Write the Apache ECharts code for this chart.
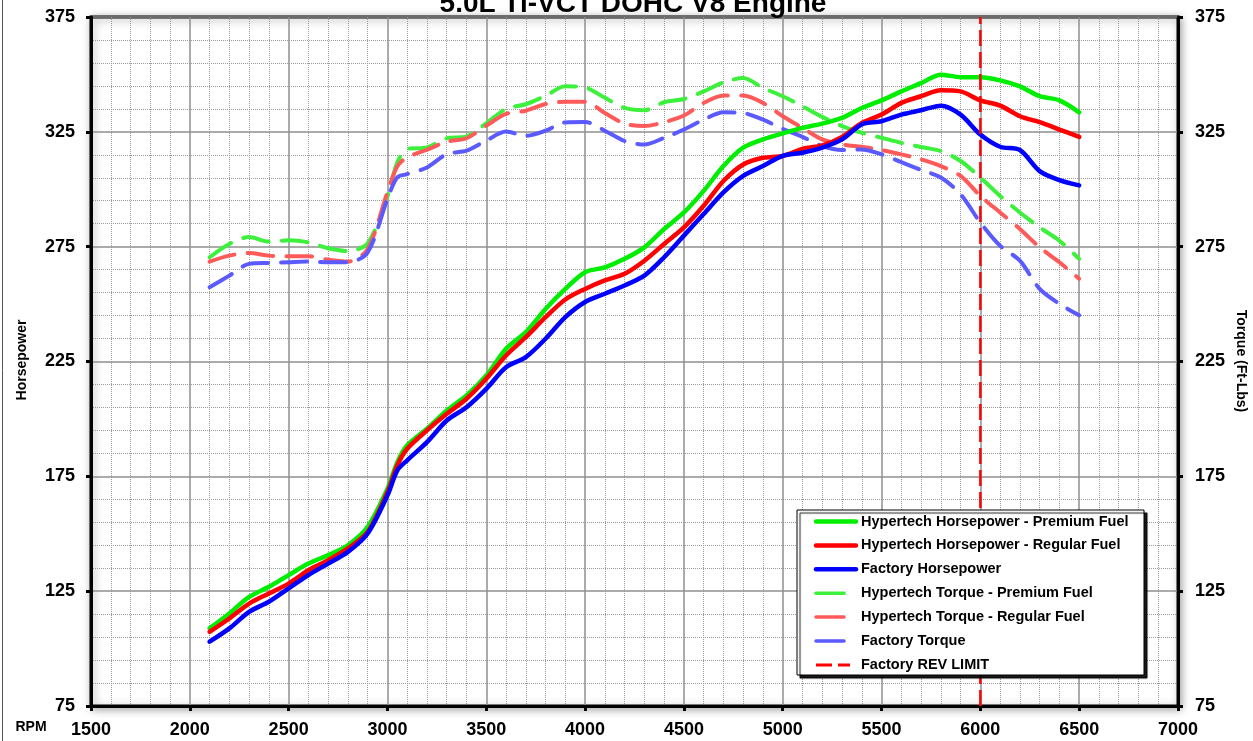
<!DOCTYPE html>
<html>
<head>
<meta charset="utf-8">
<script src="https://cdn.jsdelivr.net/npm/echarts@6.0.0/dist/echarts.min.js"></script>
<style>
html,body{margin:0;padding:0;background:#fff;}
#chart{width:1253px;height:741px;}
</style>
</head>
<body>
<div id="chart"></div>
<script>
// ---- Data ----
const TITLE = '5.0L Ti-VCT DOHC V8 Engine';
const rpm = [2100,2200,2300,2400,2500,2600,2700,2800,2900,3000,3050,3100,3200,3300,3400,3500,3600,3700,3800,3900,
             4000,4100,4200,4300,4400,4500,4600,4700,4800,4900,5000,5100,5200,5300,5400,5500,5600,5700,5800,5900,
             6000,6100,6200,6300,6400,6500];
const hpPremium = [108.8,115.3,122.5,126.9,132,137,140.7,145,153,169.6,181.2,188.5,195.7,203.7,210.2,218.9,230.5,237.8,247.9,256.6,
                   263.9,266,269.7,274.7,282.7,289.9,299.3,310.1,318.1,321.7,324.3,326.7,328.6,331.1,335.4,338.7,342.6,346.2,349.9,348.8,
                   348.8,347.4,344.8,340.5,338.7,333.5];
const hpRegular = [107.3,113.1,119.6,124,128.3,134.1,138.5,143.6,150.8,168.2,179.8,187,195,202.2,208.8,217.5,227.6,235.6,244.3,252,
                   256.6,260.3,263.2,268.9,276.2,283.4,292.8,303.6,310.8,313.7,314.5,317.6,319.1,322.8,328.9,332.5,337.6,340.5,343.1,342.6,
                   338.7,336.4,331.8,329.2,326,322.8];
const hpFactory = [103,108.8,116,120.4,126.2,132,137,142.1,150.1,166.7,177.6,182,189.9,199.3,205.1,213.1,222.5,226.9,234.9,244.3,
                   250.9,254.5,258.1,262.4,270.4,279.8,289.2,298.6,305.8,310.1,314.5,315.9,318.1,321.7,328.2,329.6,332.5,334.4,336.4,332.5,
                   323.8,318.5,317.1,307.9,304,301.7];
const tqPremium = [270.4,276.2,279.2,277.2,277.8,276.9,274.3,273.1,276.5,297,311.7,317.5,318.2,322.2,323,328.7,335,337,340.7,344.8,
                   344.3,339.8,335.4,334.4,337.9,339.3,342.6,346.5,348.4,344.1,340.5,336.1,331.5,327.5,324.6,322.4,320.2,318.4,316.6,312.3,
                   305.1,297.1,289.9,283.4,277.6,269.7];
const tqRegular = [268.5,271.1,272.2,271.1,270.8,270.8,269.3,268.5,274,298.7,310,313.9,317.2,320.7,322.2,327.7,332.8,334.2,337.1,338.1,
                   338.1,333.2,328.6,327.5,329.2,332.1,337.6,340.8,340.8,337.6,331.8,326.7,321.7,319.5,318.5,317.1,315.2,313,310.1,305.8,
                   297.1,289.9,282.7,274.7,268.2,261];
const tqFactory = [257.3,262.4,267.5,267.9,268.2,268.5,268.2,268.2,272.5,295.8,305.2,306.6,309.5,315.3,316.8,321.2,325.1,323.3,325.5,329.1,
                   329.3,325.5,321,319.5,322.4,326,330.3,333.5,333.2,330.3,326.3,322.8,318.8,317.1,317.3,315.2,311.8,308.4,305.1,297.8,
                   285.5,275.4,268.9,256.6,250.1,245.1];
const REV_LIMIT = 6000;
const xTicks = {min:1500, max:7000, interval:500};
const yTicks = {min:75, max:375, interval:50};
const seriesNames = [
  'Hypertech Horsepower - Premium Fuel',
  'Hypertech Horsepower - Regular Fuel',
  'Factory Horsepower',
  'Hypertech Torque - Premium Fuel',
  'Hypertech Torque - Regular Fuel',
  'Factory Torque',
  'Factory REV LIMIT'
];

// ---- Styling ----
const FONT = '"Liberation Sans", Arial, sans-serif';
const colors = {
  hpP:'#00ee00', hpR:'#ff0000', hpF:'#0000ff',
  tqP:'#3cf03c', tqR:'#ff5a5a', tqF:'#5a5aff', rev:'#ff0000'
};
const zip = (xs, ys) => xs.map((x,i)=>[x, ys[i]]);

const chart = echarts.init(document.getElementById('chart'), null, {renderer:'canvas'});

function hpSeries(name, data, color){
  return {name, type:'line', data:zip(rpm,data), smooth:0.3, symbol:'none', z:4,
    lineStyle:{color, width:4.5, cap:'round', join:'round'}, itemStyle:{color}};
}
function tqSeries(name, data, color){
  return {name, type:'line', data:zip(rpm,data), smooth:0.3, symbol:'none', z:3,
    lineStyle:{color, width:4, type:[26,13], cap:'round', join:'round'}, itemStyle:{color}};
}

const labelStyle = {color:'#000', fontFamily:FONT, fontWeight:'bold', fontSize:18, formatter:(v)=>String(v)};

// Legend as graphic
const legX = 797, legY = 510, legW = 347, legH = 165;
const rowY0 = 521.5, rowGap = 23.9;
const legendGraphics = [{
  type:'rect', z:100, shape:{x:legX, y:legY, width:legW, height:legH},
  style:{fill:'#fff', stroke:'#000', lineWidth:1, shadowColor:'rgba(0,0,0,0.9)', shadowOffsetX:3, shadowOffsetY:3, shadowBlur:1}
}];
const legendSpec = [
  {c:colors.hpP, w:4.5, x2:856, dash:null},
  {c:colors.hpR, w:4.5, x2:856, dash:null},
  {c:colors.hpF, w:4.5, x2:856, dash:null},
  {c:colors.tqP, w:3.5, x2:844, dash:null},
  {c:colors.tqR, w:3.5, x2:844, dash:null},
  {c:colors.tqF, w:3.5, x2:844, dash:null},
  {c:colors.rev, w:3, x2:850, dash:[16,6]}
];
legendSpec.forEach((s,i)=>{
  const y = rowY0 + i*rowGap;
  legendGraphics.push({type:'line', z:101, shape:{x1:816, y1:y, x2:s.x2, y2:y},
    style:{stroke:s.c, lineWidth:s.w, lineCap: s.dash ? 'butt':'round', lineDash:s.dash||null}});
  legendGraphics.push({type:'text', z:101, x:861, y:y,
    style:{text:seriesNames[i], font:'bold 14.5px '+FONT, fill:'#000', textAlign:'left', textVerticalAlign:'middle', align:'left', verticalAlign:'middle'}});
});

const option = {
  animation:false,
  backgroundColor:'#fff',
  grid:{left:91, right:75, top:17, bottom:35, show:true, backgroundColor:'#fff',
        borderColor:'#000', borderWidth:3,
        shadowColor:'rgba(0,0,0,0.35)', shadowBlur:8, shadowOffsetX:2, shadowOffsetY:2},
  xAxis:{type:'value', min:xTicks.min, max:xTicks.max, interval:xTicks.interval,
    axisLine:{show:true, onZero:false, lineStyle:{color:'#000', width:3}},
    axisTick:{show:true, length:5, lineStyle:{color:'#000', width:3}},
    axisLabel:Object.assign({margin:15}, labelStyle),
    splitLine:{show:true, lineStyle:{color:'#8f8f8f', width:1.5}},
    minorTick:{show:false, splitNumber:5},
    minorSplitLine:{show:true, lineStyle:{color:'#9a9a9a', width:1, type:'dotted'}}
  },
  yAxis:[
    {type:'value', min:yTicks.min, max:yTicks.max, interval:yTicks.interval, position:'left',
     axisLine:{show:true, lineStyle:{color:'#000', width:3}},
     axisTick:{show:true, length:5, lineStyle:{color:'#000', width:3}},
     axisLabel:Object.assign({margin:16}, labelStyle),
     splitLine:{show:true, lineStyle:{color:'#8f8f8f', width:1.5}},
     minorTick:{show:false, splitNumber:5},
     minorSplitLine:{show:true, lineStyle:{color:'#9a9a9a', width:1, type:'dotted'}}
    },
    {type:'value', min:yTicks.min, max:yTicks.max, interval:yTicks.interval, position:'right',
     axisLine:{show:true, lineStyle:{color:'#000', width:3}},
     axisTick:{show:true, length:5, lineStyle:{color:'#000', width:3}},
     axisLabel:Object.assign({margin:17}, labelStyle),
     splitLine:{show:false}
    }
  ],
  series:[
    tqSeries(seriesNames[3], tqPremium, colors.tqP),
    tqSeries(seriesNames[4], tqRegular, colors.tqR),
    tqSeries(seriesNames[5], tqFactory, colors.tqF),
    hpSeries(seriesNames[0], hpPremium, colors.hpP),
    hpSeries(seriesNames[1], hpRegular, colors.hpR),
    hpSeries(seriesNames[2], hpFactory, colors.hpF),
    {name:seriesNames[6], type:'line', symbol:'none', z:5,
     data:[[REV_LIMIT, yTicks.min],[REV_LIMIT, yTicks.max]],
     lineStyle:{color:colors.rev, width:2.5, type:[16,6]}, itemStyle:{color:colors.rev}}
  ],
  graphic:[
    {type:'line', z:0, shape:{x1:2.5, y1:0, x2:2.5, y2:741}, style:{stroke:'#555', lineWidth:1}},
    {type:'text', z:50, x:633, y:4,
     style:{text:TITLE, font:'bold 28px '+FONT, fill:'#000', textAlign:'center', textVerticalAlign:'middle', align:'center', verticalAlign:'middle'}},
    {type:'text', z:50, x:22, y:360, rotation:Math.PI/2,
     style:{text:'Horsepower', font:'bold 14px '+FONT, fill:'#000', textAlign:'center', textVerticalAlign:'middle', align:'center', verticalAlign:'middle'}},
    {type:'text', z:50, x:1241, y:361, rotation:-Math.PI/2,
     style:{text:'Torque (Ft-Lbs)', font:'bold 14px '+FONT, fill:'#000', textAlign:'center', textVerticalAlign:'middle', align:'center', verticalAlign:'middle'}},
    {type:'text', z:50, x:31, y:727,
     style:{text:'RPM', font:'bold 14px '+FONT, fill:'#000', textAlign:'center', textVerticalAlign:'middle', align:'center', verticalAlign:'middle'}}
  ].concat(legendGraphics)
};
chart.setOption(option);
</script>
</body>
</html>
